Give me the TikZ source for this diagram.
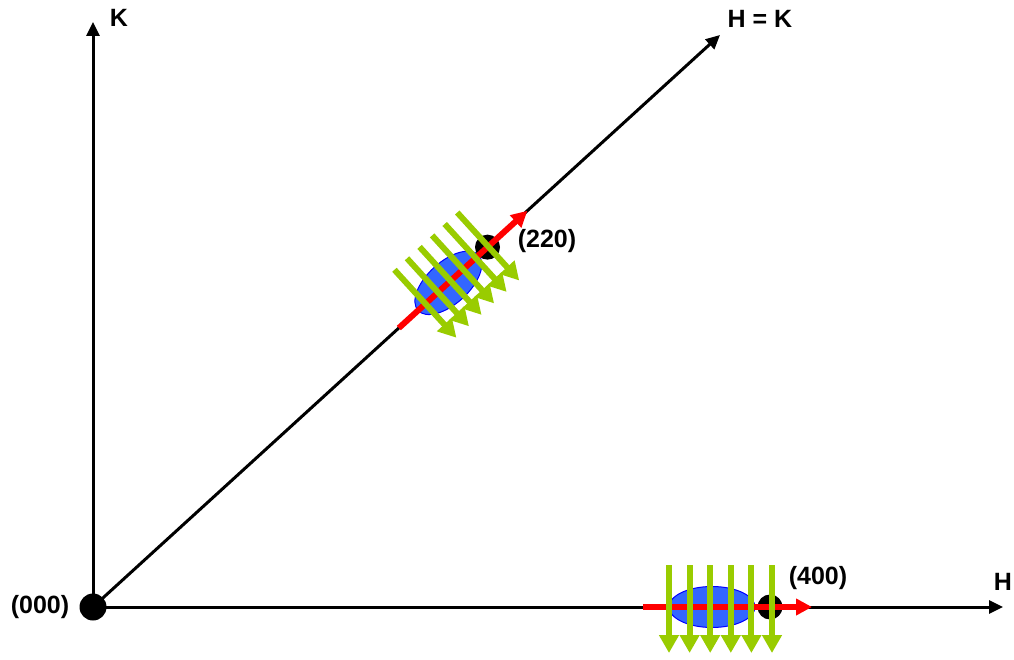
\documentclass[tikz,border=0pt]{standalone}
\usepackage{fontspec}
\setmainfont{Liberation Sans}
\usepackage{xcolor}
\usetikzlibrary{arrows.meta, calc, shapes.geometric}
\definecolor{hred}{RGB}{255,0,0}
\definecolor{hgreen}{RGB}{153,204,0}
\definecolor{hblue}{RGB}{51,102,255}
\definecolor{hedge}{RGB}{0,0,255}
\tikzset{
  axis/.style={-{Triangle[length=14pt,width=13pt]}, line width=3pt, draw=black},
  scan/.style={-{Triangle[length=16pt,width=16pt]}, line width=6pt, draw=hred},
  beam/.style={-{Triangle[length=18pt,width=19pt]}, line width=6pt, draw=hgreen},
  spot/.style={circle, fill=black, inner sep=0pt, minimum size=25pt},
  blob/.style={ellipse, fill=hblue, draw=hedge, line width=1pt, inner sep=0pt},
  lab/.style={font=\fontsize{25}{30}\selectfont\bfseries, inner sep=0pt}
}

\begin{document}
\begin{tikzpicture}[x=1pt, y=1pt]
  \useasboundingbox (-93,-52) rectangle (921,607);
  % axes
  \coordinate (O) at (0,0);
  \coordinate (Kend) at (0,585);
  \coordinate (Hend) at (910,0);
  \coordinate (HKend) at (627,572);
  \draw[axis] (O) -- (Kend);
  \draw[axis] (O) -- (Hend);
  \draw[axis] (O) -- (HKend);
  \node[spot, minimum size=27pt] (o) at (O) {};
  \node[lab] (klab) at (26,589) {K};
  \node[lab] (hklab) at (667,588) {H = K};
  \node[lab] (hlab) at (910,25) {H};
  \node[lab] (olab) at (-53,0) {(000)};

  % scan along H = K
  \begin{scope}[rotate=42.37]
    \node[blob, minimum width=82pt, minimum height=42pt, rotate=42.37] (b220) at (481,0) {};
    \node[spot] (p220) at (534,0) {};
    \coordinate (r220a) at (414,0);
    \coordinate (r220b) at (588,0);
    \draw[scan] (r220a) -- (r220b);
    \foreach \i in {0,...,5} {
      \coordinate (ga\i) at ({450+17*\i},46);
      \coordinate (gb\i) at ({450+17*\i},-46);
      \draw[beam] (ga\i) -- (gb\i);
    }
  \end{scope}
  \node[lab] (l220) at (454,366) {(220)};

  % scan along H
  \node[blob, minimum width=86pt, minimum height=41pt] (b400) at (619,0) {};
  \node[spot] (p400) at (677,0) {};
  \coordinate (r400a) at (550,0);
  \coordinate (r400b) at (719,0);
  \draw[scan] (r400a) -- (r400b);
  \foreach \i in {0,...,5} {
    \coordinate (ha\i) at ({576+20.6*\i},42);
    \coordinate (hb\i) at ({576+20.6*\i},-46);
    \draw[beam] (ha\i) -- (hb\i);
  }
  \node[lab] (l400) at (725,29) {(400)};
\end{tikzpicture}
\end{document}
